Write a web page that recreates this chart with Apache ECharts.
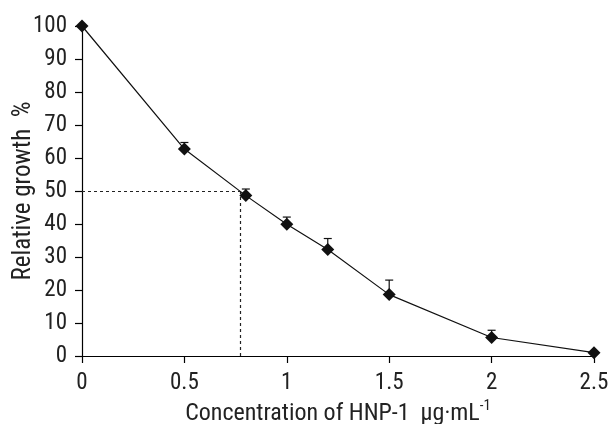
<!DOCTYPE html>
<html><head><meta charset="utf-8">
<script src="https://cdn.jsdelivr.net/npm/echarts@6/dist/echarts.min.js"></script>
<style>html,body{margin:0;padding:0;background:#fff}#c{width:609px;height:424px}</style>
</head><body><div id="c"></div>
<script>
const concentrations = [0, 0.5, 0.8, 1.0, 1.2, 1.5, 2.0, 2.5];
const growth = [100, 62.7, 48.6, 39.9, 32.3, 18.6, 5.6, 1.0];
const errors = [0, 2.0, 2.0, 2.2, 3.3, 4.4, 2.2, 0.3];
const ic50 = 0.775;
const halfLevel = 50;
const xTicks = [0, 0.5, 1, 1.5, 2, 2.5];
const yTicks = [0,10,20,30,40,50,60,70,80,90,100];

const FONT = "'Liberation Sans Narrow','Arial Narrow','Roboto Condensed','Liberation Sans',sans-serif";
const chart = echarts.init(document.getElementById('c'));
const pts = concentrations.map((x,i)=>[x, growth[i]]);
const errData = concentrations.map((x,i)=>[x, growth[i], growth[i]+errors[i]]);

chart.setOption({
  animation:false,
  grid:{left:82,right:15,top:26,bottom:68,containLabel:false,outerBoundsMode:'none'},
  xAxis:{type:'value',min:0,max:2.5,interval:0.5,
    axisLine:{lineStyle:{color:'#000',width:1.2}},
    axisTick:{show:true,length:7,lineStyle:{color:'#000',width:1.2}},
    splitLine:{show:false},
    axisLabel:{color:'#222',fontSize:23,fontFamily:FONT,margin:16,
      formatter:v=>xTicks.includes(v)?String(v):''},
    name:'Concentration of HNP-1  μg·mL{sup|-1}',nameLocation:'middle',nameGap:43,
    nameMoveOverlap:false,
    nameTextStyle:{color:'#222',fontSize:24,fontFamily:FONT,
      rich:{sup:{fontSize:15,fontFamily:FONT,color:'#222',verticalAlign:'top',padding:[0,0,14,0]}}}
  },
  yAxis:{type:'value',min:0,max:100,interval:10,
    axisLine:{show:true,lineStyle:{color:'#000',width:1.2}},
    axisTick:{show:true,length:7,lineStyle:{color:'#000',width:1.2}},
    splitLine:{show:false},
    axisLabel:{color:'#222',fontSize:23,fontFamily:FONT,margin:15,
      formatter:v=>yTicks.includes(v)?String(v):''},
    name:'Relative growth  %',nameLocation:'middle',nameGap:46,
    nameMoveOverlap:false,
    nameTextStyle:{color:'#222',fontSize:25,fontFamily:FONT}
  },
  series:[
    {type:'line',data:pts,symbol:'diamond',symbolSize:13,
      lineStyle:{color:'#111',width:1.2},itemStyle:{color:'#111'},
      z:3,
      markLine:{silent:true,symbol:'none',label:{show:false},
        lineStyle:{color:'#222',type:[3,3],width:1.2},
        data:[
          [{coord:[0,halfLevel]},{coord:[ic50,halfLevel]}],
          [{coord:[ic50,halfLevel]},{coord:[ic50,0]}]
        ]}
    },
    {type:'custom',data:errData,z:2,
      renderItem:(params,api)=>{
        const x=api.value(0), lo=api.value(1), hi=api.value(2);
        if(hi-lo<=0.01) return null;
        const p1=api.coord([x,lo]), p2=api.coord([x,hi]);
        const w=4;
        return {type:'group',children:[
          {type:'line',shape:{x1:p1[0],y1:p1[1],x2:p2[0],y2:p2[1]},style:{stroke:'#111',lineWidth:1.2}},
          {type:'line',shape:{x1:p2[0]-w,y1:p2[1],x2:p2[0]+w,y2:p2[1]},style:{stroke:'#111',lineWidth:1.2}}
        ]};
      }
    }
  ]
});
</script></body></html>
